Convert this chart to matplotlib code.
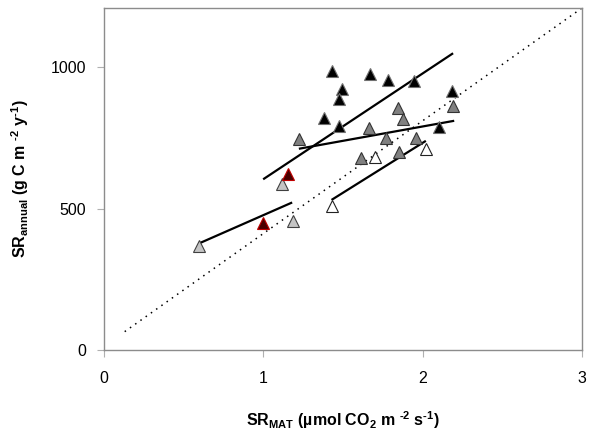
import matplotlib
matplotlib.use("Agg")
import matplotlib.pyplot as plt

black_x = [1.434, 1.669, 1.784, 1.947, 1.491, 1.472, 1.382, 1.476, 2.187, 2.104]
black_y = [988, 976, 955, 953, 925, 888, 822, 791, 917, 790]
red_x = [1.152, 0.999]
red_y = [623, 448]
gray_x = [1.223, 1.844, 1.874, 1.662, 1.771, 1.957, 1.614, 1.849, 2.191]
gray_y = [745, 858, 817, 785, 751, 751, 678, 699, 863]
light_x = [1.115, 1.184, 0.596]
light_y = [587, 457, 368]
white_x = [1.704, 2.018, 1.428]
white_y = [684, 711, 509]

# fitted lines (end points) and 1:1 reference line
fit_a_x, fit_a_y = [0.999, 2.191], [604, 1050]
fit_b_x, fit_b_y = [1.223, 2.198], [712, 811]
fit_c_x, fit_c_y = [1.428, 2.020], [531, 740]
fit_d_x, fit_d_y = [0.596, 1.181], [377, 522]
ref_x, ref_y = [0.13, 3.0], [65, 1210]

plt.rcParams.update({"font.family": "Liberation Sans", "font.size": 11.5,
                     "mathtext.fontset": "custom",
                     "mathtext.rm": "Liberation Sans:bold",
                     "mathtext.bf": "Liberation Sans:bold",
                     "mathtext.it": "Liberation Sans:bold"})

fig = plt.figure(figsize=(6.0, 4.38), dpi=100)
ax = fig.add_axes([0.1733, 0.2009, 0.7967, 0.7808])

ax.plot(ref_x, ref_y, color="black", lw=1.1, ls=(0, (1, 3.2)), zorder=1)
for fx, fy in [(fit_a_x, fit_a_y), (fit_b_x, fit_b_y), (fit_c_x, fit_c_y), (fit_d_x, fit_d_y)]:
    ax.plot(fx, fy, color="black", lw=1.6, solid_capstyle="butt", zorder=2)

mk = dict(marker="^", ms=8, ls="none", mew=0.8, zorder=3)
ax.plot(gray_x, gray_y, mfc="#808080", mec="#333333", **mk)
ax.plot(light_x, light_y, mfc="#c4c4c4", mec="#404040", **mk)
ax.plot(white_x, white_y, mfc="white", mec="#222222", **mk)
ax.plot(black_x, black_y, mfc="black", mec="#707070", **mk)
ax.plot(red_x, red_y, mfc="#4a0000", mec="#c00000", **mk)

ax.set_xlim(0, 3); ax.set_ylim(0, 1210)
ax.set_xticks([0, 1, 2, 3]); ax.set_yticks([0, 500, 1000])
for s in ax.spines.values():
    s.set_color("#8c8c8c"); s.set_linewidth(1.0)
ax.tick_params(direction="out", length=5, width=0.8, color="#b0b0b0", pad=8)
ax.tick_params(axis="x", pad=10)

ax.set_xlabel(r"SR$_{\rm MAT}$ ($\text{\u00b5}$mol CO$_{\rm 2}$ m $^{\text{-2}}$ s$^{\text{-1}}$)".replace("\\u00b5", "\u00b5"),
              fontweight="bold", labelpad=17)
ax.set_ylabel(r"SR$_{\rm annual}$ (g C m $^{\text{-2}}$ y$^{\text{-1}}$)",
              fontweight="bold", labelpad=14)

fig.savefig("out.png", dpi=100)
